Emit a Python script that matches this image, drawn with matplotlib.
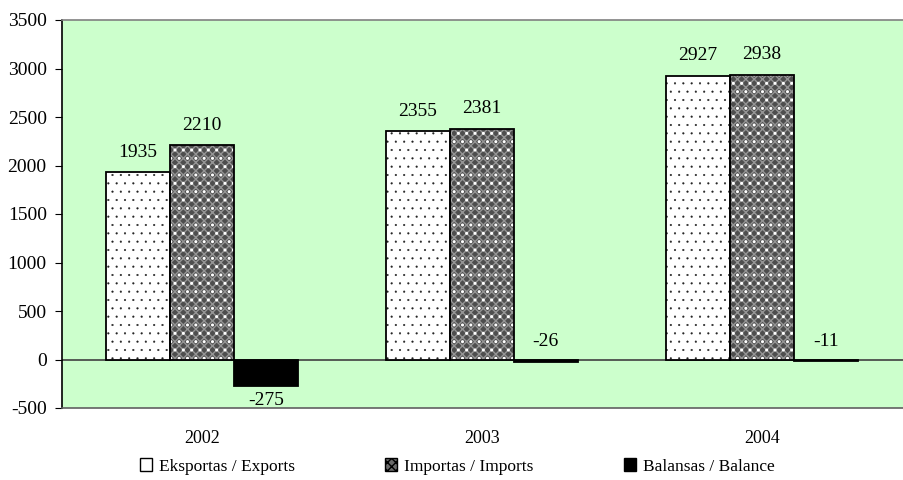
import numpy as np
import matplotlib
matplotlib.use("Agg")
import matplotlib.pyplot as plt
from matplotlib.patches import Patch

years = ["2002", "2003", "2004"]
exports = [1935, 2355, 2927]
imports = [2210, 2381, 2938]
balance = [-275, -26, -11]
series_names = ["Eksportas / Exports", "Importas / Imports", "Balansas / Balance"]

plt.rcParams['font.family'] = ['Liberation Serif', 'DejaVu Serif']
plt.rcParams['font.size'] = 14
plt.rcParams['axes.unicode_minus'] = False

fig = plt.figure(figsize=(9.04, 4.8), dpi=100)
ax = fig.add_axes([62/904, 72/480, 841/904, 388/480])
ax.set_facecolor('#ccffcc')

x = np.arange(len(years))
w = 0.2286

# exports: white with small black dots
with plt.rc_context({'hatch.linewidth': 0.3}):
    ax.bar(x - w, exports, w, color='white', edgecolor='#222222', hatch='..', linewidth=0, zorder=2)
ax.bar(x - w, exports, w, color='none', edgecolor='black', linewidth=1.3, zorder=3)

# imports: dark checker with white dots
with plt.rc_context({'hatch.linewidth': 1.0}):
    ax.bar(x, imports, w, color='#4e4e4e', edgecolor='#959595', hatch='xxxx', linewidth=0, zorder=2)
    ax.bar(x, imports, w, color='none', edgecolor='white', hatch='..', linewidth=0, zorder=2)
ax.bar(x, imports, w, color='none', edgecolor='black', linewidth=1.3, zorder=3)

# balance: solid black
ax.bar(x + w, balance, w, color='black', edgecolor='black', linewidth=1.3, zorder=3)

for i in range(len(years)):
    ax.annotate(str(exports[i]), (x[i] - w, exports[i]), xytext=(0, 8), textcoords='offset points', ha='center', va='bottom')
    ax.annotate(str(imports[i]), (x[i], imports[i]), xytext=(0, 8), textcoords='offset points', ha='center', va='bottom')
    if balance[i] < -100:
        ax.annotate(str(balance[i]), (x[i] + w, balance[i]), xytext=(0, -4), textcoords='offset points', ha='center', va='top')
    else:
        ax.annotate(str(balance[i]), (x[i] + w, 0), xytext=(0, 7), textcoords='offset points', ha='center', va='bottom')

ax.axhline(0, color='#404040', linewidth=1.2, zorder=1)

ax.set_ylim(-500, 3500)
ax.set_yticks(np.arange(-500, 3501, 500))
ax.set_xlim(-0.5, 2.505)
ax.set_xticks(x)
ax.set_xticklabels(years)
ax.tick_params(axis='x', length=0, pad=16, labelsize=13)
ax.tick_params(axis='y', length=5, direction='out', pad=6)

ax.spines['right'].set_visible(False)
ax.spines['top'].set_color('#808080')
ax.spines['bottom'].set_color('#606060')
ax.spines['left'].set_color('black')
for s in ax.spines.values():
    s.set_linewidth(1.2)

handles = [
    Patch(facecolor='white', edgecolor='black', label=series_names[0]),
    Patch(facecolor='#6a6a6a', edgecolor='black', hatch='xxxx', label=series_names[1]),
    Patch(facecolor='black', edgecolor='black', label=series_names[2]),
]
fig.legend(handles=handles, loc='center', bbox_to_anchor=(0.506, 0.028), ncol=3, frameon=False,
           fontsize=12.5, handlelength=0.7, handleheight=0.7, handletextpad=0.4, columnspacing=5.2)

fig.savefig('out.png', dpi=100)
